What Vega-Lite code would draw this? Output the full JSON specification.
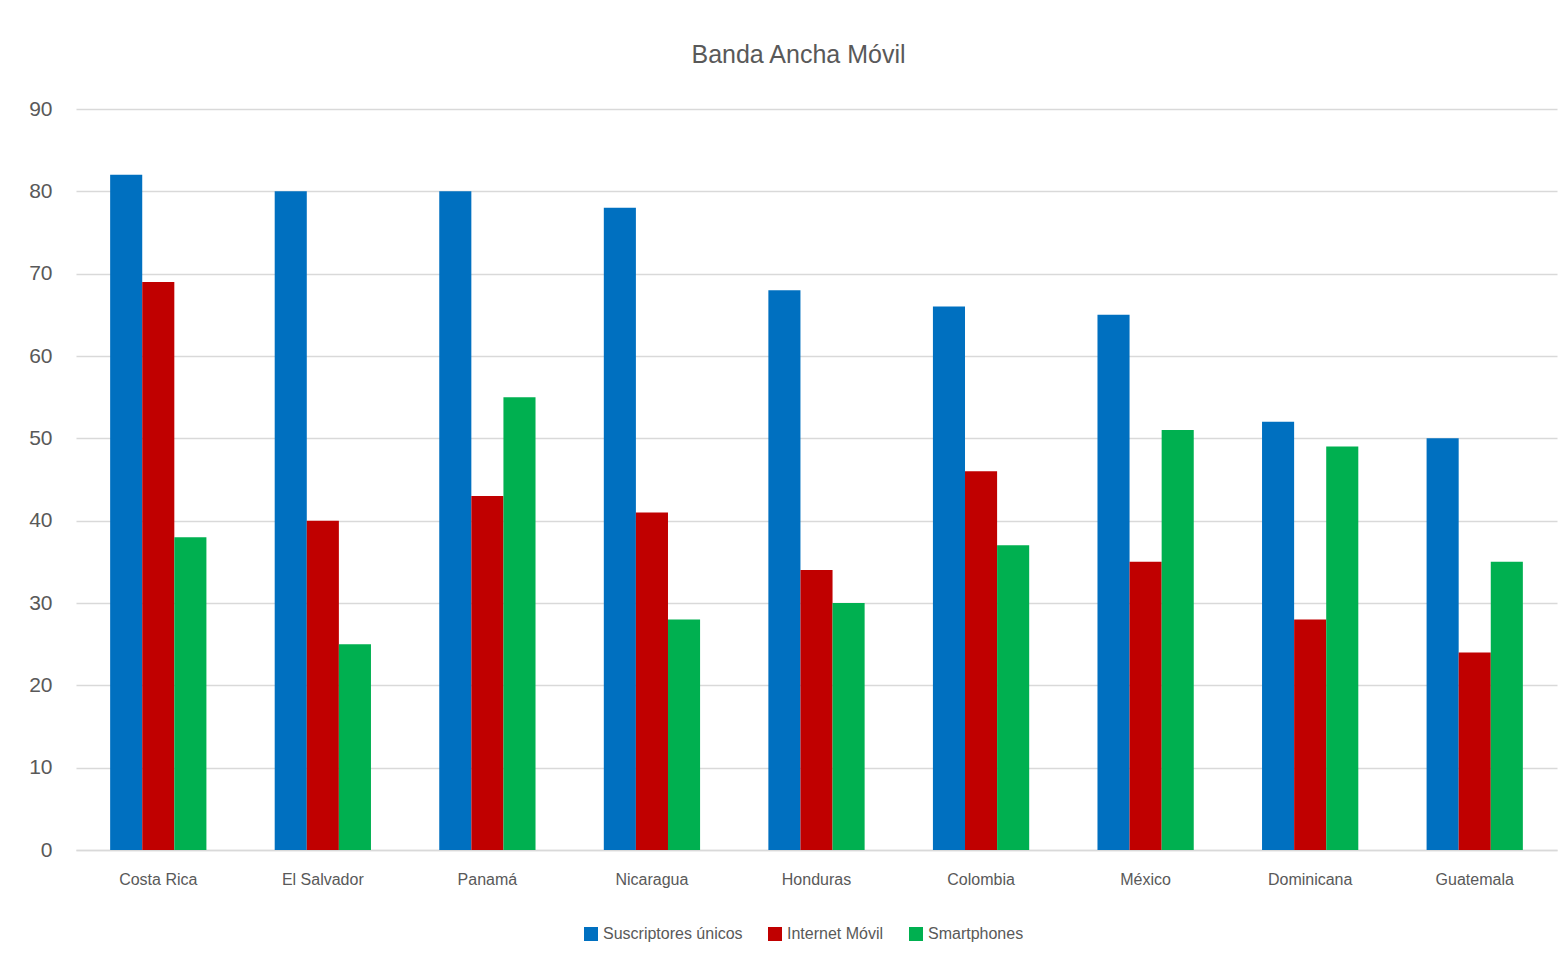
{
  "$schema": "https://vega.github.io/schema/vega-lite/v6.json",
  "width": 1481,
  "height": 741,
  "autosize": {"type": "none"},
  "padding": {"left": 76, "top": 109, "right": 8, "bottom": 118},
  "background": "#ffffff",
  "title": {
    "text": "Banda Ancha Móvil",
    "fontSize": 25,
    "font": "Liberation Sans",
    "fontWeight": "normal",
    "color": "#595959",
    "anchor": "middle",
    "offset": 30,
    "dx": -18
  },
  "data": {
    "values": [
      {"pais": "Costa Rica", "serie": "Suscriptores únicos", "valor": 82},
      {"pais": "Costa Rica", "serie": "Internet Móvil", "valor": 69},
      {"pais": "Costa Rica", "serie": "Smartphones", "valor": 38},
      {"pais": "El Salvador", "serie": "Suscriptores únicos", "valor": 80},
      {"pais": "El Salvador", "serie": "Internet Móvil", "valor": 40},
      {"pais": "El Salvador", "serie": "Smartphones", "valor": 25},
      {"pais": "Panamá", "serie": "Suscriptores únicos", "valor": 80},
      {"pais": "Panamá", "serie": "Internet Móvil", "valor": 43},
      {"pais": "Panamá", "serie": "Smartphones", "valor": 55},
      {"pais": "Nicaragua", "serie": "Suscriptores únicos", "valor": 78},
      {"pais": "Nicaragua", "serie": "Internet Móvil", "valor": 41},
      {"pais": "Nicaragua", "serie": "Smartphones", "valor": 28},
      {"pais": "Honduras", "serie": "Suscriptores únicos", "valor": 68},
      {"pais": "Honduras", "serie": "Internet Móvil", "valor": 34},
      {"pais": "Honduras", "serie": "Smartphones", "valor": 30},
      {"pais": "Colombia", "serie": "Suscriptores únicos", "valor": 66},
      {"pais": "Colombia", "serie": "Internet Móvil", "valor": 46},
      {"pais": "Colombia", "serie": "Smartphones", "valor": 37},
      {"pais": "México", "serie": "Suscriptores únicos", "valor": 65},
      {"pais": "México", "serie": "Internet Móvil", "valor": 35},
      {"pais": "México", "serie": "Smartphones", "valor": 51},
      {"pais": "Dominicana", "serie": "Suscriptores únicos", "valor": 52},
      {"pais": "Dominicana", "serie": "Internet Móvil", "valor": 28},
      {"pais": "Dominicana", "serie": "Smartphones", "valor": 49},
      {"pais": "Guatemala", "serie": "Suscriptores únicos", "valor": 50},
      {"pais": "Guatemala", "serie": "Internet Móvil", "valor": 24},
      {"pais": "Guatemala", "serie": "Smartphones", "valor": 35}
    ]
  },
  "mark": {"type": "bar"},
  "encoding": {
    "x": {
      "field": "pais",
      "type": "nominal",
      "sort": null,
      "title": null,
      "scale": {"paddingInner": 0.415, "paddingOuter": 0.2075},
      "axis": {
        "labelAngle": 0,
        "labelFontSize": 16,
        "labelFont": "Liberation Sans",
        "labelColor": "#595959",
        "labelPadding": 21,
        "ticks": false,
        "domain": true,
        "domainColor": "#d9d9d9",
        "domainWidth": 1.5
      }
    },
    "xOffset": {
      "field": "serie",
      "type": "nominal",
      "sort": ["Suscriptores únicos", "Internet Móvil", "Smartphones"],
      "scale": {"paddingInner": 0, "paddingOuter": 0}
    },
    "y": {
      "field": "valor",
      "type": "quantitative",
      "title": null,
      "scale": {"domain": [0, 90], "nice": false},
      "axis": {
        "values": [0, 10, 20, 30, 40, 50, 60, 70, 80, 90],
        "labelFontSize": 21,
        "labelFont": "Liberation Sans",
        "labelColor": "#595959",
        "labelPadding": 24,
        "ticks": false,
        "domain": false,
        "grid": true,
        "gridColor": "#d9d9d9",
        "gridWidth": 1.5
      }
    },
    "color": {
      "field": "serie",
      "type": "nominal",
      "sort": ["Suscriptores únicos", "Internet Móvil", "Smartphones"],
      "scale": {
        "domain": ["Suscriptores únicos", "Internet Móvil", "Smartphones"],
        "range": ["#0070C0", "#C00000", "#00B050"]
      },
      "legend": {
        "title": null,
        "orient": "none",
        "legendX": 507,
        "legendY": 817,
        "direction": "horizontal",
        "symbolType": "square",
        "symbolSize": 196,
        "symbolStrokeWidth": 0,
        "labelFontSize": 16,
        "labelFont": "Liberation Sans",
        "labelColor": "#595959",
        "columnPadding": 24,
        "labelOffset": 4
      }
    }
  },
  "config": {
    "view": {"stroke": null}
  }
}
